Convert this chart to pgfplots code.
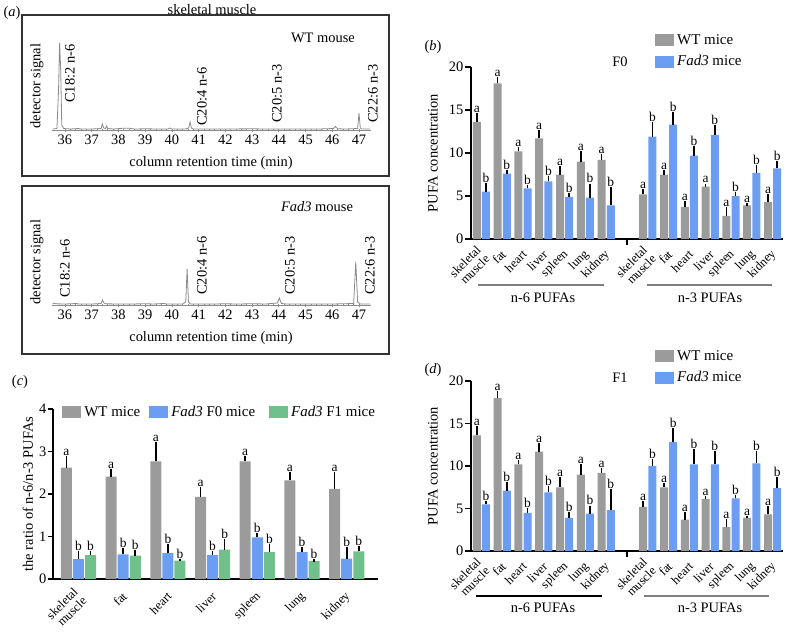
\documentclass[border=0pt]{standalone}
\usepackage{fontspec}
\setmainfont{Liberation Serif}
\usepackage{pgfplots}
\usepackage{pgfplotstable}
\usetikzlibrary{calc}
\pgfplotsset{compat=1.18}

\definecolor{wtgray}{HTML}{9B9B9B}
\definecolor{fadblue}{HTML}{6B9EF2}
\definecolor{fadgreen}{HTML}{6FC08A}
\definecolor{trace}{HTML}{8A8A8A}
\definecolor{frame}{HTML}{333333}

\newcommand{\fs}[1]{\fontsize{#1}{#1}\selectfont}

% panel b (F0): x, WT value, WT error top, Fad3 value, Fad3 error top
\pgfplotstableread{
x  wt   wte  fa   fae
0  13.6 14.5 5.5  6.4
1  18.1 18.7 7.6  7.9
2  10.2 10.5 5.9  6.1
3  11.7 12.5 6.7  7.2
4  7.5  8.3  4.9  5.2
5  9.0  10.1 4.8  6.3
6  9.2  9.7  3.9  5.9
8  5.2  5.7  11.9 13.5
9  7.5  7.9  13.3 14.6
10 3.7  4.3  9.7  10.7
11 6.1  6.3  12.1 13.1
12 2.7  3.6  5.0  5.3
13 3.9  4.0  7.7  8.4
14 4.3  5.1  8.2  8.9
}\tabFzero

% panel d (F1)
\pgfplotstableread{
x  wt   wte  fa   fae
0  13.6 14.5 5.5  5.7
1  18.0 18.7 7.1  8.0
2  10.2 10.5 4.5  4.9
3  11.7 12.5 6.9  7.5
4  7.5  8.5  3.9  4.4
5  9.0  10.1 4.4  5.2
6  9.2  9.6  4.8  7.1
8  5.2  5.7  10.0 10.7
9  7.5  7.9  12.8 14.3
10 3.7  4.4  10.2 11.8
11 6.1  6.3  10.2 11.6
12 2.8  3.6  6.2  6.4
13 3.9  4.0  10.3 11.6
14 4.3  5.1  7.4  8.6
}\tabFone

% panel c: ratio n-6/n-3
\pgfplotstableread{
x wt   wte  fz   fze  fo   foe
0 2.62 2.87 0.47 0.63 0.56 0.63
1 2.41 2.56 0.58 0.71 0.55 0.65
2 2.77 3.20 0.61 0.80 0.43 0.45
3 1.93 2.14 0.56 0.62 0.69 0.90
4 2.77 2.87 0.98 1.05 0.63 0.80
5 2.32 2.49 0.63 0.72 0.42 0.44
6 2.12 2.49 0.48 0.73 0.65 0.75
}\tabRatio

\tikzset{catlab/.style={font=\fs{12.5}, rotate=45, anchor=east, align=right, inner sep=0.5bp}}

\pgfplotsset{
  swatch/.style={legend image code/.code={\fill[##1] (0bp,-6bp) rectangle (19bp,6bp);}},
  ebar/.style={error bars/.cd, y dir=plus, y explicit,
    error bar style={line width=1.6bp, black},
    error mark options={mark size=1.3bp, line width=1.6bp, black}},
  letters/.style={draw=none, mark=none, forget plot, nodes near coords={#1},
    every node near coord/.append style={font=\fs{13.5}, anchor=south, inner sep=0.5bp, yshift=1bp, black}},
  chrom/.style={scale only axis, width=319.4bp, height=100bp,
    xmin=35.5, xmax=47.45, ymin=0, ymax=100,
    axis y line=none, axis x line*=bottom,
    x axis line style={trace, line width=0.8bp, -},
    xtick={36,...,47}, minor x tick num=4,
    tick align=center, major tick length=3bp, minor tick length=2bp,
    tick style={trace, line width=0.6bp},
    ticklabel style={font=\fs{14.5}},
    /pgf/number format/assume math mode=true, clip=false},
  pufa/.style={scale only axis, width=312bp,
    xmin=-0.5, xmax=14.5, ymin=0, ymax=20, ytick={0,5,...,20},
    xtick={7}, xticklabels={},
    axis x line*=bottom, axis y line*=left,
    axis line style={line width=1.8bp, -},
    tick align=outside, major tick length=6bp,
    tick style={line width=1.5bp, black},
    yticklabel style={font=\fs{14.5}, inner sep=1.5bp},
    ylabel={PUFA concentration},
    ylabel style={font=\fs{14.5}, at={(axis description cs:-0.122,0.5)}, anchor=center},
    /pgf/number format/assume math mode=true, clip=false,
    legend style={draw=none, fill=none, inner sep=0pt, row sep=4bp,
      nodes={inner sep=3bp, font=\fs{15}}},
    legend cell align=left},
}

% category names under the bars
\newcommand{\cat}[3]{\node[catlab] at ($(axis cs:#1,0)+(2bp,-#3bp)$) {#2};}
\newcommand{\catgroup}[2]{%
  \cat{#1}{skeletal\\muscle}{#2}
  \cat{\the\numexpr#1+1\relax}{fat}{#2}
  \cat{\the\numexpr#1+2\relax}{heart}{#2}
  \cat{\the\numexpr#1+3\relax}{liver}{#2}
  \cat{\the\numexpr#1+4\relax}{spleen}{#2}
  \cat{\the\numexpr#1+5\relax}{lung}{#2}
  \cat{\the\numexpr#1+6\relax}{kidney}{#2}}

\newcommand{\pufaplots}[1]{%
  \addplot[ybar, bar width=8bp, bar shift=0pt, fill=wtgray, draw=none, swatch, ebar]
    table[x expr=\thisrow{x}-0.22, y=wt, y error expr=\thisrow{wte}-\thisrow{wt}] {#1};
  \addlegendentry{WT mice}
  \addplot[ybar, bar width=8bp, bar shift=0pt, fill=fadblue, draw=none, swatch, ebar]
    table[x expr=\thisrow{x}+0.22, y=fa, y error expr=\thisrow{fae}-\thisrow{fa}] {#1};
  \addlegendentry{\textit{Fad3} mice}
  \addplot[letters=a] table[x expr=\thisrow{x}-0.22, y=wte] {#1};
  \addplot[letters=b] table[x expr=\thisrow{x}+0.22, y=fae] {#1};
  \catgroup{0}{13}
  \catgroup{8}{13}
}

\newcommand{\T}[3]{\node[font=\fs{14.5}, inner sep=0pt] at (#1bp,-#2bp) {#3};}
\newcommand{\R}[3]{\node[font=\fs{14.5}, inner sep=0pt, rotate=90, anchor=west] at (#1bp,-#2bp) {#3};}

\begin{document}
\begin{tikzpicture}
\path[use as bounding box] (0,0) rectangle (786bp,-632bp);

% ---------- (a) chromatograms ----------
\draw[frame, line width=1.2bp] (22bp,-15bp) rectangle (389bp,-176bp);
\draw[frame, line width=1.2bp] (22bp,-186bp) rectangle (389bp,-354bp);

\begin{axis}[chrom, at={(51.6bp,-130bp)}, anchor=south west]
\addplot[trace, line width=0.8bp] coordinates {
(35.54,1)(35.70,1.5)(35.76,40)(35.80,87)(35.84,60)(35.88,5)(35.95,1.5)(36.2,1)
(36.5,1.5)(36.6,1)(37.0,1)(37.35,1.5)(37.40,6)(37.45,2)(37.52,1.5)(37.56,4)
(37.60,1.5)(37.8,1)(38.2,1.8)(38.4,1.8)(38.6,1)(39.0,1.2)(39.5,1)(39.85,1)
(39.92,2)(40.0,1)(40.5,1)(40.63,2)(40.68,8)(40.73,2)(40.8,1)(41.5,1)(42.0,1)
(43.0,1.2)(43.5,1)(44.0,1)(45.0,1)(45.5,1)(46.05,1.5)(46.12,3.5)(46.2,1.2)
(46.5,1)(46.95,1.5)(47.0,17)(47.05,2)(47.1,1)(47.42,1)};
\end{axis}

\begin{axis}[chrom, at={(51.6bp,-305bp)}, anchor=south west]
\addplot[trace, line width=0.8bp] coordinates {
(35.54,1)(35.6,2)(35.68,1.2)(36.0,1)(36.45,1.5)(36.5,1)(37.0,1)(37.35,1.5)
(37.40,5)(37.46,2)(37.55,1.2)(38.0,1)(38.5,1)(39.0,1.3)(39.3,1)(39.7,1.5)
(39.8,1)(40.4,1)(40.52,3)(40.57,36)(40.62,3)(40.7,1)(41.5,1)(42.0,1.2)(42.5,1)
(43.0,1.3)(43.5,1)(43.95,2)(44.02,7)(44.1,1.5)(44.3,1)(45.0,1)(46.0,1)
(46.8,1.5)(46.88,43)(46.95,3)(47.05,1)(47.42,1)};
\end{axis}

\T{12}{13}{(\textit{a})}
\T{212}{10}{skeletal muscle}
\T{323}{38}{WT mouse}
\T{317}{207}{\textit{Fad3} mouse}
\T{211}{163}{column retention time (min)}
\T{211}{338}{column retention time (min)}
\node[font=\fs{14.5}, inner sep=0pt, rotate=90] at (37bp,-86bp) {detector signal};
\node[font=\fs{14.5}, inner sep=0pt, rotate=90] at (37bp,-262bp) {detector signal};
\R{70}{103}{C18:2 n-6}
\R{202}{126}{C20:4 n-6}
\R{277}{123}{C20:5 n-3}
\R{373}{123}{C22:6 n-3}
\R{65}{298}{C18:2 n-6}
\R{202}{295}{C20:4 n-6}
\R{290}{295}{C20:5 n-3}
\R{370}{295}{C22:6 n-3}

% ---------- (b) F0 ----------
\begin{axis}[pufa, height=172bp, at={(471bp,-239bp)}, anchor=south west,
  legend style={at={(axis description cs:0.5897,1.2093)}, anchor=north west}]
\pufaplots{\tabFzero}
\end{axis}
\T{433}{47}{(\textit{b})}
\T{620}{62}{F0}
\draw[gray, line width=1.5bp] (478bp,-285bp) -- (604bp,-285bp);
\draw[gray, line width=1.5bp] (647bp,-285bp) -- (772bp,-285bp);
\T{543}{298}{n-6 PUFAs}
\T{710}{298}{n-3 PUFAs}

% ---------- (d) F1 ----------
\begin{axis}[pufa, height=170bp, at={(471bp,-551bp)}, anchor=south west,
  legend style={at={(axis description cs:0.5897,1.2)}, anchor=north west}]
\pufaplots{\tabFone}
\end{axis}
\T{433}{370}{(\textit{d})}
\T{620}{378}{F1}
\draw[black, line width=1.5bp] (476bp,-596bp) -- (602bp,-596bp);
\draw[gray, line width=1.5bp] (644bp,-596bp) -- (769bp,-596bp);
\T{543}{608}{n-6 PUFAs}
\T{710}{608}{n-3 PUFAs}

% ---------- (c) ratio ----------
\begin{axis}[scale only axis, width=325bp, height=170bp, at={(53bp,-579bp)}, anchor=south west,
  xmin=-0.57, xmax=6.70, ymin=0, ymax=4, ytick={0,1,2,3,4},
  xtick=\empty,
  axis x line*=bottom, axis y line*=left,
  axis line style={line width=1.8bp, -},
  tick align=outside, major tick length=5bp,
  tick style={line width=1.5bp, black},
  yticklabel style={font=\fs{14.5}, inner sep=1.5bp},
  ylabel={the ratio of n-6/n-3 PUFAs},
  ylabel style={font=\fs{14.5}, at={(axis description cs:-0.077,0.5)}, anchor=center},
  /pgf/number format/assume math mode=true, clip=false,
  legend columns=3,
  legend style={draw=none, fill=none, inner sep=0pt,
    at={(axis description cs:0.028,1.035)}, anchor=north west,
    nodes={inner sep=3bp, font=\fs{15}},
    /tikz/column 2/.style={column sep=6bp},
    /tikz/column 4/.style={column sep=11bp}},
  legend cell align=left]
\addplot[ybar, bar width=11bp, bar shift=0pt, fill=wtgray, draw=none, swatch, ebar]
  table[x expr=\thisrow{x}-0.27, y=wt, y error expr=\thisrow{wte}-\thisrow{wt}] {\tabRatio};
\addlegendentry{WT mice}
\addplot[ybar, bar width=11bp, bar shift=0pt, fill=fadblue, draw=none, swatch, ebar]
  table[x expr=\thisrow{x}, y=fz, y error expr=\thisrow{fze}-\thisrow{fz}] {\tabRatio};
\addlegendentry{\textit{Fad3} F0 mice}
\addplot[ybar, bar width=11bp, bar shift=0pt, fill=fadgreen, draw=none, swatch, ebar]
  table[x expr=\thisrow{x}+0.27, y=fo, y error expr=\thisrow{foe}-\thisrow{fo}] {\tabRatio};
\addlegendentry{\textit{Fad3} F1 mice}
\addplot[letters=a] table[x expr=\thisrow{x}-0.27, y=wte] {\tabRatio};
\addplot[letters=b] table[x expr=\thisrow{x}, y=fze] {\tabRatio};
\addplot[letters=b] table[x expr=\thisrow{x}+0.27, y=foe] {\tabRatio};
\catgroup{0}{15}
\end{axis}
\T{20}{382}{(\textit{c})}

\end{tikzpicture}
\end{document}
